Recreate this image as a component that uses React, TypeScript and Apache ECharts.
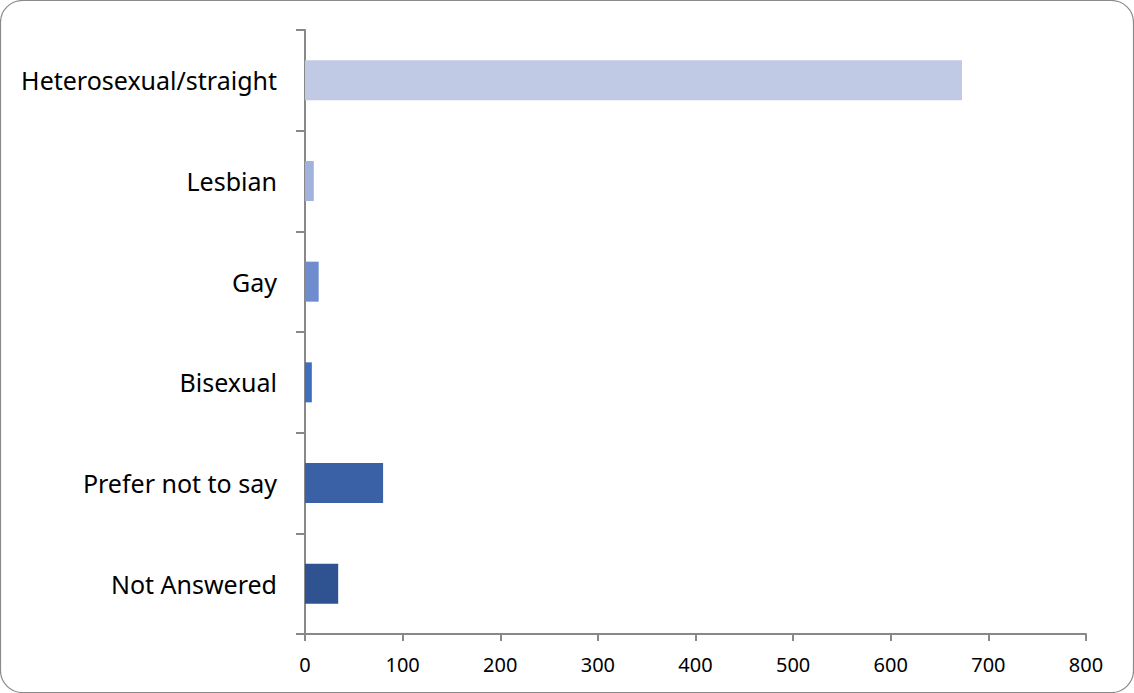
import React, { useEffect, useRef } from "react";
import * as echarts from "echarts";

const categories = [
  "Heterosexual/straight",
  "Lesbian",
  "Gay",
  "Bisexual",
  "Prefer not to say",
  "Not Answered",
];
const values = [673, 9, 14, 7, 80, 34];
const barColors = ["#C0CAE4", "#A3B2DC", "#6F8CCF", "#3F6EBE", "#3A60A6", "#2F5290"];
const xTicks = [0, 100, 200, 300, 400, 500, 600, 700, 800];

export default function App() {
  const ref = useRef<HTMLDivElement>(null);
  useEffect(() => {
    if (!ref.current) return;
    const chart = echarts.init(ref.current, undefined, { renderer: "svg" });
    chart.setOption({
      animation: false,
      backgroundColor: "#fff",
      grid: { left: 305, right: 48, top: 30, bottom: 59, containLabel: false },
      xAxis: {
        type: "value",
        min: xTicks[0],
        max: xTicks[xTicks.length - 1],
        interval: 100,
        axisLine: { show: true, lineStyle: { color: "#888", width: 2 } },
        axisTick: { show: true, length: 7, lineStyle: { color: "#888", width: 2 } },
        splitLine: { show: false },
        axisLabel: {
          color: "#000",
          fontFamily: "Noto Sans",
          fontSize: 20,
          margin: 20,
        },
      },
      yAxis: {
        type: "category",
        data: categories,
        inverse: true,
        axisLine: { show: true, lineStyle: { color: "#888", width: 2 } },
        axisTick: { show: true, length: 9, lineStyle: { color: "#888", width: 2 } },
        axisLabel: {
          color: "#000",
          fontFamily: "Noto Sans",
          fontSize: 25,
          margin: 28,
        },
      },
      series: [
        {
          type: "bar",
          barWidth: 40,
          data: values.map((v, i) => ({ value: v, itemStyle: { color: barColors[i] } })),
        },
      ],
      graphic: [
        {
          type: "rect",
          shape: { x: 0.5, y: 0.5, width: 1133, height: 692, r: 22 },
          style: { fill: "none", stroke: "#8a8a8a", lineWidth: 1.2 },
          silent: true,
        },
      ],
    });
    return () => chart.dispose();
  }, []);
  return (
    <div
      ref={ref}
      style={{ position: "fixed", left: 0, top: 0, width: 1134, height: 693 }}
    />
  );
}
